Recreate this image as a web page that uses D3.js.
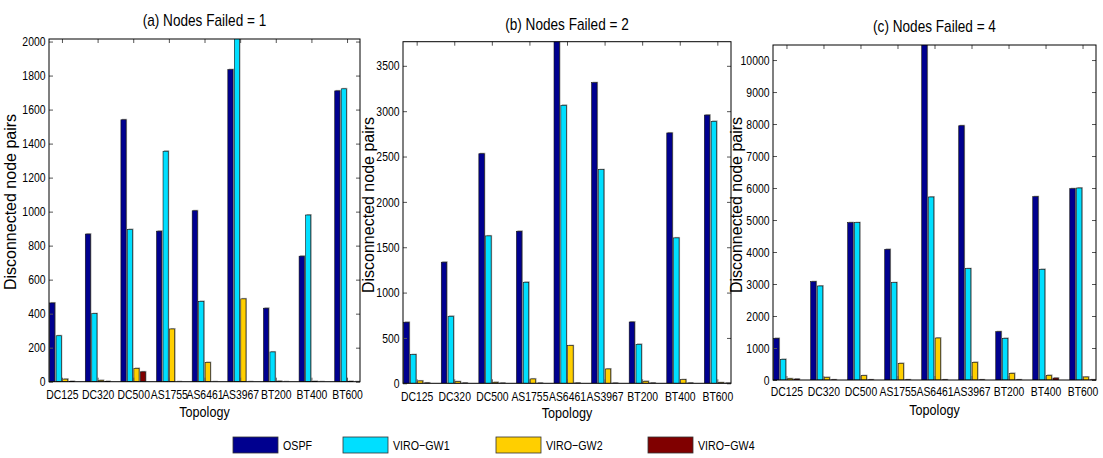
<!DOCTYPE html>
<html>
<head>
<meta charset="utf-8">
<script src="https://cdn.jsdelivr.net/npm/d3@7"></script>
<style>
  body { margin: 0; background: #fff; }
  svg { display: block; }
  text { font-family: "Liberation Sans", Arial, sans-serif; fill: #000; }
</style>
</head>
<body>
<div id="chart"></div>
<script>
// categories and series
const categories = ["DC125", "DC320", "DC500", "AS1755", "AS6461", "AS3967", "BT200", "BT400", "BT600"];
const seriesNames = ["OSPF", "VIRO\u2212GW1", "VIRO\u2212GW2", "VIRO\u2212GW4"];
const seriesColors = ["#00008f", "#00dfff", "#ffcf00", "#800000"];

// (a) nodes failed = 1
const ospfF1 = [463, 868, 1540, 885, 1005, 1835, 432, 738, 1710];
const gw1F1 = [270, 400, 895, 1355, 472, 2100, 175, 980, 1722];
const gw2F1 = [15, 8, 78, 310, 113, 487, 3, 2, 2];
const gw4F1 = [2, 2, 58, 0, 0, 0, 0, 0, 0];
const yTicksF1 = [0, 200, 400, 600, 800, 1000, 1200, 1400, 1600, 1800, 2000];
const yMaxF1 = 2015;

// (b) nodes failed = 2
const ospfF2 = [673, 1335, 2531, 1676, 3900, 3314, 676, 2760, 2957];
const gw1F2 = [316, 739, 1625, 1114, 3065, 2355, 430, 1603, 2888];
const gw2F2 = [26, 18, 11, 48, 415, 158, 22, 40, 7];
const gw4F2 = [4, 3, 2, 2, 3, 2, 3, 3, 2];
const yTicksF2 = [0, 500, 1000, 1500, 2000, 2500, 3000, 3500];
const yMaxF2 = 3766;

// (c) nodes failed = 4
const ospfF4 = [1302, 3073, 4917, 4083, 10600, 7947, 1510, 5729, 5979];
const gw1F4 = [646, 2938, 4917, 3042, 5719, 3479, 1302, 3458, 6000];
const gw2F4 = [40, 83, 135, 520, 1312, 552, 208, 146, 94];
const gw4F4 = [30, 5, 5, 5, 5, 5, 5, 60, 5];
const yTicksF4 = [0, 1000, 2000, 3000, 4000, 5000, 6000, 7000, 8000, 9000, 10000];
const yMaxF4 = 10470;

const W = 1103, H = 458;
const svg = d3.select("#chart").append("svg")
    .attr("width", W)
    .attr("height", H);

// squeeze text horizontally (no narrow font installed)
function narrow(sel, f) {
    sel.each(function () {
        let len = this.getComputedTextLength();
        d3.select(this).attr("textLength", len * f).attr("lengthAdjust", "spacingAndGlyphs");
    });
}

const panels = [
    {title: "(a) Nodes Failed = 1", data: [ospfF1, gw1F1, gw2F1, gw4F1], ticks: yTicksF1, yMax: yMaxF1,
     left: 49, right: 360, top: 39, bottom: 381.7, titleY: 26, yLabelX: 15.5, yLabelY: 202, xLabY: 399, topoY: 416.5},
    {title: "(b) Nodes Failed = 2", data: [ospfF2, gw1F2, gw2F2, gw4F2], ticks: yTicksF2, yMax: yMaxF2,
     left: 403, right: 731, top: 41.7, bottom: 383.3, titleY: 29.5, yLabelX: 374, yLabelY: 205, xLabY: 401, topoY: 418},
    {title: "(c) Nodes Failed = 4", data: [ospfF4, gw1F4, gw2F4, gw4F4], ticks: yTicksF4, yMax: yMaxF4,
     left: 773, right: 1096, top: 45, bottom: 380, titleY: 32, yLabelX: 742, yLabelY: 205, xLabY: 396, topoY: 414.5}
];

// grouped bar geometry (matlab style)
const groupW = 4 / 5.5;
const slot = groupW / 4;
const barW = slot * 0.8;

panels.forEach((p, pi) => {
    let g = svg.append("g");

    let x = d3.scaleLinear().domain([1 - groupW / 2, categories.length + groupW / 2]).range([p.left, p.right]);
    let y = d3.scaleLinear().domain([0, p.yMax]).range([p.bottom, p.top]);

    // clip
    svg.append("clipPath").attr("id", "clip" + pi)
        .append("rect")
        .attr("x", p.left).attr("y", p.top)
        .attr("width", p.right - p.left).attr("height", p.bottom - p.top);

    let barsG = g.append("g").attr("clip-path", `url(#clip${pi})`);
    let bw = x(1 + barW) - x(1);

    p.data.forEach((vals, s) => {
        let sg = barsG.append("g");
        // shadow
        sg.selectAll(".shadow")
            .data(vals)
            .enter().append("rect")
            .attr("x", (d, i) => x(i + 1 + (s - 1.5) * slot) - bw / 2 + 1)
            .attr("y", d => y(d) - 1)
            .attr("width", bw)
            .attr("height", d => p.bottom - y(d) + 1)
            .style("fill", "#a8a8a8");
        sg.selectAll(".bar")
            .data(vals)
            .enter().append("rect")
            .attr("x", (d, i) => x(i + 1 + (s - 1.5) * slot) - bw / 2)
            .attr("y", d => y(d))
            .attr("width", bw)
            .attr("height", d => p.bottom - y(d))
            .style("fill", seriesColors[s])
            .style("stroke", "#111")
            .style("stroke-width", 0.6);
    });

    // axes
    let yAxisL = d3.axisLeft(y).tickValues(p.ticks).tickFormat(d3.format("d"))
        .tickSizeInner(-4).tickSizeOuter(0).tickPadding(7);
    let yAxisR = d3.axisRight(y).tickValues(p.ticks).tickSizeInner(-4).tickSizeOuter(0).tickFormat("");
    let xAxisB = d3.axisBottom(x).tickValues(d3.range(1, categories.length + 1))
        .tickFormat(d => categories[d - 1]).tickSizeInner(-4).tickSizeOuter(0).tickPadding(8);
    let xAxisT = d3.axisTop(x).tickValues(d3.range(1, categories.length + 1)).tickSizeInner(-4).tickSizeOuter(0).tickFormat("");

    let ya = g.append("g").attr("transform", `translate(${p.left},0)`).call(yAxisL);
    g.append("g").attr("transform", `translate(${p.right},0)`).call(yAxisR);
    let xa = g.append("g").attr("transform", `translate(0,${p.bottom})`).call(xAxisB);
    g.append("g").attr("transform", `translate(0,${p.top})`).call(xAxisT);

    g.selectAll(".domain").remove();
    g.selectAll(".tick line").style("stroke", "#555").style("stroke-width", 1);
    ya.selectAll("text").style("font-size", "13px").style("fill", "#000")
        .style("font-family", '"Liberation Sans", Arial, sans-serif')
        .attr("x", -3.5);
    narrow(ya.selectAll("text"), 0.8);
    xa.selectAll("text").attr("y", null).attr("dy", null)
        .attr("transform", `translate(0,${p.xLabY - p.bottom})`)
        .style("font-size", "13px").style("fill", "#000")
        .style("font-family", '"Liberation Sans", Arial, sans-serif');
    narrow(xa.selectAll("text"), 0.8);

    // box
    g.append("rect")
        .attr("x", p.left).attr("y", p.top)
        .attr("width", p.right - p.left).attr("height", p.bottom - p.top)
        .style("fill", "none").style("stroke", "#000").style("stroke-width", 1);

    // title
    let t = g.append("text")
        .attr("x", (p.left + p.right) / 2).attr("y", p.titleY)
        .attr("text-anchor", "middle")
        .style("font-size", "17px")
        .text(p.title);
    narrow(t, 0.8);

    // x label
    let xl = g.append("text")
        .attr("x", (p.left + p.right) / 2).attr("y", p.topoY)
        .attr("text-anchor", "middle")
        .style("font-size", "15px")
        .text("Topology");
    narrow(xl, 0.84);

    // y label
    g.append("text")
        .attr("transform", `translate(${p.yLabelX},${p.yLabelY}) rotate(-90)`)
        .attr("text-anchor", "middle")
        .style("font-size", "16px")
        .text("Disconnected node pairs");
});

// legend
const legendX = [233, 343, 496, 648];
const legend = svg.append("g");
seriesNames.forEach((name, i) => {
    legend.append("rect")
        .attr("x", legendX[i]).attr("y", 437)
        .attr("width", 45).attr("height", 16)
        .style("fill", seriesColors[i])
        .style("stroke", "#333").style("stroke-width", 0.8);
    let lt = legend.append("text")
        .attr("x", legendX[i] + 50).attr("y", 450)
        .style("font-size", "13px")
        .text(name);
    narrow(lt, 0.82);
});
</script>
</body>
</html>
